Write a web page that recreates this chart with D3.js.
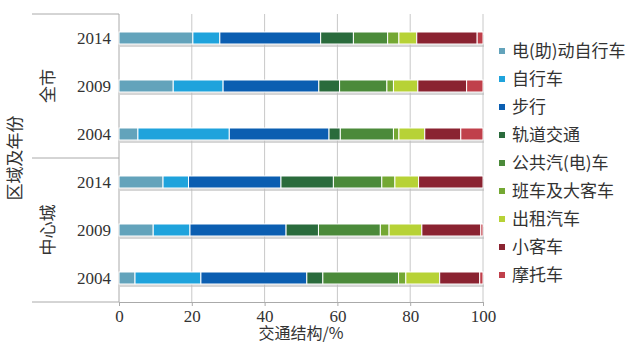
<!DOCTYPE html>
<html>
<head>
<meta charset="utf-8">
<title></title>
<style>
    body { margin: 0; background: #fff; }
</style>
</head>
<body>
<div id="chart"></div>
<script src="https://d3js.org/d3.v7.min.js"></script>
<script>
    // rows top to bottom
    const regions = ['全市', '全市', '全市', '中心城', '中心城', '中心城']
    const years = ['2014', '2009', '2004', '2014', '2009', '2004']
    const modes = ['电(助)动自行车', '自行车', '步行', '轨道交通', '公共汽(电)车', '班车及大客车', '出租汽车', '小客车', '摩托车']
    const colors = ['#63a3bb', '#1fa3dc', '#0b5eb1', '#2a6b3c', '#4b8a3a', '#74a833', '#b7d236', '#8a2331', '#c0404b']

    // share (%) of each mode, one array per mode, same row order as years
    const ebike   = [20.3, 14.9, 5.2, 12.1, 9.4, 4.4]
    const bike    = [7.4, 13.7, 25.1, 7.0, 10.1, 18.1]
    const walk    = [27.7, 26.3, 27.4, 25.4, 26.4, 29.1]
    const rail    = [9.0, 5.7, 3.1, 14.4, 8.9, 4.4]
    const bus     = [9.4, 13.0, 14.6, 13.3, 17.0, 20.8]
    const coach   = [3.1, 1.8, 1.5, 3.6, 2.4, 2.0]
    const taxi    = [4.9, 6.7, 7.1, 6.5, 9.0, 9.3]
    const car     = [16.6, 13.4, 9.9, 17.7, 16.2, 11.0]
    const moto    = [1.6, 4.5, 6.1, 0, 0.6, 0.9]
    const xTicks = [0, 20, 40, 60, 80, 100]

    const SERIF = '"Liberation Serif", "Times New Roman", serif'
    const CJK = '"Noto Sans CJK SC", "Noto Sans", sans-serif'
    const TEXT = '#333'

    const series = [ebike, bike, walk, rail, bus, coach, taxi, car, moto]
    const rows = years.map((y, i) => {
        const r = { key: i, year: y, region: regions[i] }
        modes.forEach((m, j) => r[m] = series[j][i])
        return r
    })

    const width = 640, height = 351
    const margin = { top: 14, right: 157, bottom: 49, left: 119 }
    const innerW = width - margin.left - margin.right
    const innerH = height - margin.top - margin.bottom

    const svg = d3.select('#chart').append('svg')
        .attr('width', width)
        .attr('height', height)

    const g = svg.append('g')
        .attr('transform', `translate(${margin.left},${margin.top})`)

    const x = d3.scaleLinear().domain([0, 100]).range([0, innerW])
    const y = d3.scaleBand().domain(rows.map(d => d.key)).range([0, innerH])
    const color = d3.scaleOrdinal().domain(modes).range(colors)

    // gridlines
    g.append('g')
        .selectAll('line')
        .data(xTicks.slice(1))
        .join('line')
        .attr('x1', d => x(d)).attr('x2', d => x(d))
        .attr('y1', 0).attr('y2', innerH)
        .attr('stroke', '#c8c8c8')
        .attr('stroke-width', 1)

    // x axis
    const xAxis = g.append('g')
        .attr('transform', `translate(0,${innerH})`)
        .call(d3.axisBottom(x).tickValues(xTicks).tickSize(4).tickSizeOuter(0).tickPadding(4))
    xAxis.select('.domain').attr('stroke', '#aaa')
    xAxis.selectAll('.tick line').attr('stroke', '#aaa')
    xAxis.selectAll('text')
        .style('font-family', SERIF)
        .style('font-size', '17px')
        .style('fill', TEXT)

    // y axis line
    g.append('line')
        .attr('x1', 0).attr('x2', 0)
        .attr('y1', 0).attr('y2', innerH)
        .attr('stroke', '#aaa')

    // group bracket lines
    const groupEdges = [0, innerH / 2, innerH]
    g.append('g')
        .selectAll('line')
        .data(groupEdges)
        .join('line')
        .attr('x1', -87).attr('x2', 0)
        .attr('y1', d => d).attr('y2', d => d)
        .attr('stroke', '#aaa')

    const stacked = d3.stack().keys(modes)(rows)
    const barH = 12

    // bar shadow
    g.append('g')
        .selectAll('rect')
        .data(rows)
        .join('rect')
        .attr('x', 1)
        .attr('y', d => y(d.key) + y.bandwidth() / 2 - barH / 2 + 3)
        .attr('width', innerW)
        .attr('height', barH)
        .attr('fill', '#bbb')
        .attr('opacity', 0.6)

    g.append('g')
        .selectAll('g')
        .data(stacked)
        .join('g')
        .attr('fill', d => color(d.key))
        .selectAll('rect')
        .data(d => d)
        .join('rect')
        .attr('x', d => x(d[0]))
        .attr('y', d => y(d.data.key) + y.bandwidth() / 2 - barH / 2)
        .attr('width', d => Math.max(0, x(d[1]) - x(d[0])))
        .attr('height', barH)
        .attr('stroke', '#fff')
        .attr('stroke-width', 1)

    // year labels
    g.append('g')
        .selectAll('text')
        .data(rows)
        .join('text')
        .attr('x', -8)
        .attr('y', d => y(d.key) + y.bandwidth() / 2)
        .attr('dy', '0.35em')
        .attr('text-anchor', 'end')
        .style('font-family', SERIF)
        .style('font-size', '17px')
        .style('fill', TEXT)
        .text(d => d.year)

    // region labels
    const regionNames = ['全市', '中心城']
    g.append('g')
        .selectAll('text')
        .data(regionNames)
        .join('text')
        .attr('transform', (d, i) => `translate(${-71},${y(i * 3 + 1) + y.bandwidth() / 2}) rotate(-90)`)
        .attr('dy', '0.35em')
        .attr('text-anchor', 'middle')
        .style('font-family', CJK)
        .style('font-size', '17px')
        .style('fill', TEXT)
        .text(d => d)

    // axis titles
    svg.append('text')
        .attr('transform', `translate(15,${margin.top + innerH / 2}) rotate(-90)`)
        .attr('dy', '0.35em')
        .attr('text-anchor', 'middle')
        .style('font-family', CJK)
        .style('font-size', '17px')
        .style('fill', TEXT)
        .text('区域及年份')

    svg.append('text')
        .attr('x', margin.left + innerW / 2)
        .attr('y', 333)
        .attr('dy', '0.35em')
        .attr('text-anchor', 'middle')
        .style('font-family', CJK)
        .style('font-size', '16px')
        .style('fill', TEXT)
        .text('交通结构/%')

    // legend
    const legend = svg.append('g')
        .selectAll('g')
        .data(modes)
        .join('g')
        .attr('transform', (d, i) => `translate(499,${51 + i * 28})`)
    legend.append('rect')
        .attr('x', 0).attr('y', -3)
        .attr('width', 6).attr('height', 6)
        .attr('fill', d => color(d))
    legend.append('text')
        .attr('x', 13)
        .attr('dy', '0.35em')
        .style('font-family', CJK)
        .style('font-size', '17px')
        .style('fill', TEXT)
        .text(d => d)
</script>
</body>
</html>
